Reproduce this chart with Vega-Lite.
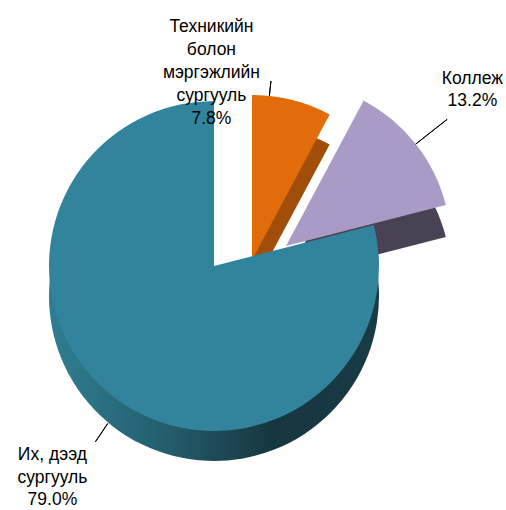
{
  "$schema": "https://vega.github.io/schema/vega-lite/v6.json",
  "width": 428,
  "height": 504,
  "autosize": {"type": "none"},
  "padding": {"left": 0, "top": 14, "right": 78, "bottom": 0},
  "background": "white",
  "config": {"view": {"stroke": null}},
  "data": {
    "values": [
      {"k": "tech", "o": 1, "v": 7.8, "lab": "Техникийн|болон|мэргэжлийн|сургууль|7.8%"},
      {"k": "col", "o": 2, "v": 13.2, "lab": "Коллеж|13.2%"},
      {"k": "uni", "o": 3, "v": 79.0, "lab": "Их, дээд|сургууль|79.0%"}
    ]
  },
  "encoding": {
    "theta": {"field": "v", "type": "quantitative", "stack": true},
    "order": {"field": "o", "type": "quantitative"}
  },
  "layer": [
    {
      "mark": {"type": "arc", "radius": 165, "xOffset": 38, "yOffset": 24},
      "encoding": {"fill": {"condition": {"test": "datum.k === 'tech'", "value": "#A04E0A"}, "value": null}}
    },
    {
      "mark": {"type": "arc", "radius": 165, "xOffset": 38, "yOffset": -6},
      "encoding": {"fill": {"condition": {"test": "datum.k === 'tech'", "value": "#E36C0A"}, "value": null}}
    },
    {
      "mark": {"type": "arc", "radius": 165, "xOffset": 72, "yOffset": 12},
      "encoding": {"fill": {"condition": {"test": "datum.k === 'col'", "value": "#494154"}, "value": null}}
    },
    {
      "mark": {"type": "arc", "radius": 165, "xOffset": 72, "yOffset": -20},
      "encoding": {"fill": {"condition": {"test": "datum.k === 'col'", "value": "#A99BC5"}, "value": null}}
    },
    {
      "mark": {"type": "arc", "radius": 165, "xOffset": 0, "yOffset": 30},
      "encoding": {"fill": {"condition": {"test": "datum.k === 'uni'", "value": {"gradient": "linear", "x1": 0, "y1": 0, "x2": 1, "y2": 0, "stops": [{"offset": 0, "color": "#2F7E91"}, {"offset": 0.35, "color": "#245E6D"}, {"offset": 0.68, "color": "#163640"}, {"offset": 1, "color": "#193B45"}]}}, "value": null}}
    },
    {
      "mark": {"type": "arc", "radius": 165, "xOffset": 0, "yOffset": 0},
      "encoding": {"fill": {"condition": {"test": "datum.k === 'uni'", "value": "#31849B"}, "value": null}}
    },
    {
      "mark": {"type": "arc", "filled": false, "radius": 180, "radius2": 165, "padAngle": 3.1415, "thetaOffset": -0.1396, "theta2Offset": -0.1396, "xOffset": 38, "yOffset": -6, "strokeWidth": 1},
      "encoding": {"stroke": {"condition": {"test": "datum.k === 'tech'", "value": "#000000"}, "value": null}}
    },
    {
      "mark": {"type": "arc", "filled": false, "radius": 205, "radius2": 165, "padAngle": 3.1415, "xOffset": 72, "yOffset": -20, "strokeWidth": 1},
      "encoding": {"stroke": {"condition": {"test": "datum.k === 'col'", "value": "#000000"}, "value": null}}
    },
    {
      "mark": {"type": "arc", "filled": false, "radius": 212, "radius2": 190, "padAngle": 3.1415, "thetaOffset": 3.49, "theta2Offset": 3.49, "strokeWidth": 1},
      "encoding": {"stroke": {"condition": {"test": "datum.k === 'tech'", "value": "#000000"}, "value": null}}
    },
    {
      "mark": {"type": "text", "radius": 175, "dx": -45, "dy": -64, "align": "center", "baseline": "alphabetic", "lineBreak": "|", "lineHeight": 23, "fontSize": 17.5, "font": "Liberation Sans, Arial, sans-serif", "color": "#000000"},
      "encoding": {"text": {"condition": {"test": "datum.k === 'tech'", "field": "lab", "type": "nominal"}, "value": ""}}
    },
    {
      "mark": {"type": "text", "radius": 260, "dx": 54, "dy": -21, "align": "center", "baseline": "alphabetic", "lineBreak": "|", "lineHeight": 21.5, "fontSize": 17.5, "font": "Liberation Sans, Arial, sans-serif", "color": "#000000"},
      "encoding": {"text": {"condition": {"test": "datum.k === 'col'", "field": "lab", "type": "nominal"}, "value": ""}}
    },
    {
      "mark": {"type": "text", "radius": 200, "dx": -39, "dy": 36, "align": "center", "baseline": "alphabetic", "lineBreak": "|", "lineHeight": 22.5, "fontSize": 17.5, "font": "Liberation Sans, Arial, sans-serif", "color": "#000000"},
      "encoding": {"text": {"condition": {"test": "datum.k === 'uni'", "field": "lab", "type": "nominal"}, "value": ""}}
    }
  ]
}
